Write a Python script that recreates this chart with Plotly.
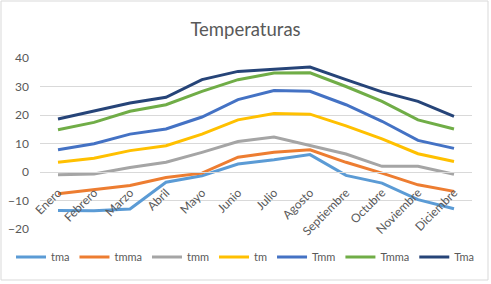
import plotly.graph_objects as go

meses = ["Enero", "Febrero", "Marzo", "Abril", "Mayo", "Junio", "Julio",
         "Agosto", "Septiembre", "Octubre", "Noviembre", "Diciembre"]

tma = [-13.5, -13.6, -13.0, -3.6, -1.3, 2.8, 4.3, 6.1, -1.2, -3.9, -9.7, -12.9]
tmma = [-7.6, -6.2, -4.7, -1.9, -0.4, 5.2, 6.9, 7.8, 3.4, -0.4, -4.5, -6.8]
tmm = [-1.0, -0.7, 1.6, 3.4, 6.9, 10.7, 12.3, 9.2, 6.3, 2.0, 2.0, -0.8]
tm = [3.4, 4.8, 7.5, 9.2, 13.3, 18.3, 20.5, 20.3, 16.2, 11.6, 6.4, 3.7]
Tmm = [7.8, 9.9, 13.3, 15.1, 19.3, 25.4, 28.6, 28.3, 23.6, 17.8, 11.1, 8.3]
Tmma = [14.8, 17.4, 21.3, 23.6, 28.3, 32.4, 34.7, 34.8, 30.0, 24.8, 18.3, 15.1]
Tma = [18.6, 21.5, 24.2, 26.2, 32.4, 35.3, 36.1, 36.8, 32.4, 28.1, 24.8, 19.5]

series = [
    ("tma", tma, "#5B9BD5"),
    ("tmma", tmma, "#ED7D31"),
    ("tmm", tmm, "#A5A5A5"),
    ("tm", tm, "#FFC000"),
    ("Tmm", Tmm, "#4472C4"),
    ("Tmma", Tmma, "#70AD47"),
    ("Tma", Tma, "#264478"),
]

y_min, y_max = -20, 40

fig = go.Figure()
for name, vals, color in series:
    fig.add_trace(go.Scatter(x=meses, y=vals, name=name, mode="lines",
                             line=dict(color=color, width=3)))

font = "Lato, Carlito, Calibri, sans-serif"
W, H = 491, 284
mt, mb = 58, 55
ph = H - mt - mb
plot_left, plot_right = 40, 472
zero_pos = (0 - y_min) / (y_max - y_min)

fig.update_layout(
    width=W, height=H,
    margin=dict(l=0, r=0, t=mt, b=mb, autoexpand=False),
    paper_bgcolor="white", plot_bgcolor="white",
    font=dict(family=font, color="#595959", size=12),
    title=dict(text="Temperaturas", x=0.5, xanchor="center",
               y=1 - 30 / H, yref="container", yanchor="middle",
               font=dict(size=18.5, color="#595959", family=font)),
    showlegend=True,
    legend=dict(orientation="h", x=0.5, xanchor="center",
                y=-28 / ph, yanchor="middle",
                font=dict(size=11, color="#595959"),
                itemwidth=30, tracegroupgap=0, bgcolor="rgba(0,0,0,0)"),
    xaxis=dict(type="category", range=[-0.5, 11.5], tickangle=-45,
               domain=[plot_left / W, plot_right / W],
               showgrid=False, showline=True, linecolor="#D9D9D9", linewidth=1,
               anchor="free", position=zero_pos, ticks="", automargin=False,
               ticklabelstandoff=8,
               tickfont=dict(size=12, color="#595959")),
    yaxis=dict(range=[y_min, y_max], dtick=10, showgrid=True,
               gridcolor="#D9D9D9", gridwidth=1, zeroline=False,
               showline=False, ticks="", automargin=False,
               ticklabelstandoff=10,
               tickfont=dict(size=12, color="#595959")),
    shapes=[dict(type="rect", xref="paper", yref="paper",
                 x0=1 / W, x1=(W - 3) / W,
                 y0=-(mb - 4) / ph, y1=1 + (mt - 1) / ph,
                 line=dict(color="#D9D9D9", width=1), layer="below")],
)

fig.write_html("out.html")
